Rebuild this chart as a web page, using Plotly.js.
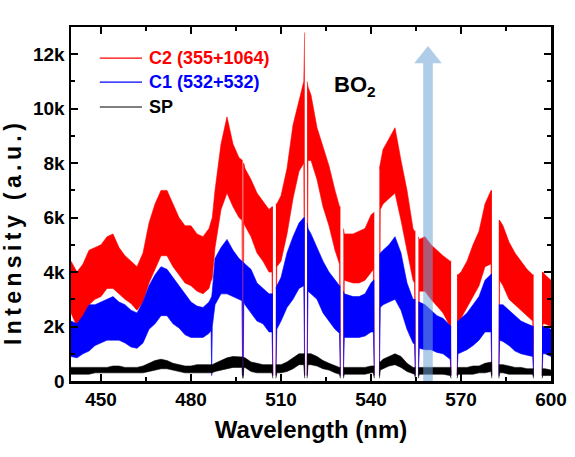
<!DOCTYPE html>
<html>
<head>
<meta charset="utf-8">
<script src="https://cdn.plot.ly/plotly-3.0.1.min.js"></script>
<style>
  html, body { margin: 0; padding: 0; background: #fff; }
  #chart { width: 575px; height: 457px; }
  .annotation[data-index="1"] text { letter-spacing: 4.4px; }
</style>
</head>
<body>
<div id="chart"></div>
<script>
// ---- data (null = no data between stitched spectral windows) ----
const wavelength = [
  440, 442, 444, 446, 448, 450, 452, 454, 456, 458, 460, 462, 464, 466, 468, 470, 472, 474, 476, 478,
  480, 482, 484, 486, 486.7, 486.9, 487.1, 488, 490, 492, 494, 496, 497.0, 497.2, 497.3, 497.4, 497.6, 498,
  500, 502, 504, 506, 507.0, 507.3, 507.8, 508.3, 508.6, 510, 512, 514, 516, 517.6, 517.9, 518.3, 518.7, 519.0,
  520, 522, 524, 526, 528, 529.5, 529.8, 530.3, 530.8, 531.1, 534, 536, 538, 540, 540.8, 541.1, 542.0, 542.8, 543.1,
  544, 546, 548, 550, 552, 554, 554.5, 554.8, 555.3, 555.8, 556.1, 558, 560, 562, 564, 566.4, 566.7, 567.7, 568.7, 569.0,
  570, 572, 574, 576, 578, 580.0, 580.3, 581.5, 582.6, 582.9, 584, 586, 588, 590, 592, 593.9, 594.2, 595.6, 597.0, 597.3,
  598, 600
];
// C2 (355+1064)
const c2Upper = [
  4400, 4000, 4300, 4800, 4900, 5000, 5300, 5400, 4900, 4600, 4400, 4200, 4700, 5800, 6500, 7000, 7000, 6500, 6000, 5700,
  5700, 5400, 5300, 5600, 5900, 5900, 6000, 7000, 8700, 9700, 8700, 8200, 8100, 8100, null, 8000, 8000, 7800,
  7400, 6900, 6600, 6300, 6400, 6400, null, 6500, 6500, 6800, 7800, 9400, 10300, 11000, 12800, null, 11000, 10800,
  10500, 9300, 8600, 7900, 7000, 6400, 6400, null, 5600, 5400, 5400, 5500, 5600, 6100, 6200, 6200, null, 7800, 8000,
  8500, 8900, 9300, 8100, 7000, 5600, 5500, 5500, null, 5300, 5200, 5300, 5000, 4800, 4600, 4400, 4400, null, 3900, 3900,
  4000, 4400, 5000, 5500, 6500, 7000, 7000, null, 5900, 5900, 5700, 5100, 4700, 4400, 4100, 3900, 3900, null, 4000, 4000,
  3900, 3700
];
const c2Lower = [
  2500, 2000, 2300, 2800, 3000, 3100, 3400, 3400, 3200, 3000, 2850, 2600, 2900, 3600, 4100, 4600, 4600, 4200, 3900, 3600,
  3500, 3300, 3200, 3400, 3700, 3700, 3800, 4900, 6300, 6900, 6400, 6000, 5900, 200, null, 200, 5800, 5700,
  5300, 4700, 4400, 4000, 4000, 200, null, 200, 4200, 4400, 5400, 6700, 7700, 8000, 200, null, 200, 8100,
  8100, 7400, 6400, 5700, 4800, 4300, 200, null, 200, 3700, 3600, 3600, 3700, 4000, 4100, 200, null, 200, 6300,
  6500, 6700, 6900, 5900, 4800, 3700, 3600, 200, null, 200, 3300, 3300, 3000, 2750, 2500, 2000, 200, null, 200, 2200,
  2300, 2700, 3100, 3500, 4200, 4300, 200, null, 200, 3700, 3500, 3000, 2800, 2600, 2400, 2200, 200, null, 200, 2100,
  2100, 2000
];
// C1 (532+532)
const c1Upper = [
  2200, 2100, 2400, 2800, 2800, 2900, 3000, 3100, 2900, 2800, 2600, 2500, 2900, 3500, 3900, 4200, 4100, 3800, 3500, 3200,
  2900, 2750, 2700, 2900, 3100, 3100, 3300, 4500, 4900, 5200, 4800, 4500, 4400, 4400, null, 4350, 4350, 4300,
  4100, 3600, 3400, 3200, 3200, 3200, null, 3400, 3500, 3800, 4700, 5300, 5800, 6000, 6000, null, 5800, 5600,
  5400, 4900, 4400, 4000, 3700, 3500, 3500, null, 3300, 3200, 3100, 3100, 3200, 3600, 3700, 3700, null, 4600, 4700,
  4800, 5000, 5300, 4700, 3600, 3000, 3000, 3000, null, 2900, 2900, 2800, 2600, 2400, 2300, 2000, 2000, null, 2200, 2200,
  2300, 2500, 2800, 3100, 3700, 3950, 3950, null, 2800, 2800, 2800, 2600, 2400, 2200, 2100, 2000, 2000, null, 2000, 2000,
  2000, 1900
];
const c1Lower = [
  900, 850, 1000, 1100, 1300, 1400, 1500, 1500, 1500, 1400, 1250, 1200, 1400, 1900, 2100, 2400, 2400, 2100, 1950, 1700,
  1600, 1600, 1600, 1750, 1850, 200, 2000, 2800, 3200, 3200, 3100, 3000, 2950, 200, null, 200, 2900, 2800,
  2500, 2200, 2100, 1800, 1800, 200, null, 200, 1900, 2200, 2700, 3000, 3400, 3500, 200, null, 200, 3300,
  3200, 3000, 2500, 2200, 1900, 1750, 200, null, 200, 1600, 1600, 1600, 1650, 1800, 1800, 200, null, 200, 2700,
  2800, 2900, 3000, 2600, 1900, 1400, 1350, 200, null, 200, 1200, 1150, 1150, 1050, 1000, 800, 200, null, 200, 1000,
  1050, 1150, 1300, 1500, 1800, 1800, 200, null, 200, 1500, 1450, 1300, 1100, 1000, 950, 900, 200, null, 200, 1000,
  1000, 900
];
// SP
const spUpper = [
  500, 500, 500, 500, 500, 500, 500, 550, 550, 500, 500, 500, 550, 650, 750, 800, 750, 650, 600, 550,
  550, 600, 600, 600, 600, 600, 600, 650, 750, 850, 900, 900, 880, 880, null, 870, 870, 850,
  700, 650, 600, 600, 600, 600, null, 600, 600, 600, 700, 850, 1000, 1000, 1000, null, 1000, 1000,
  1000, 900, 750, 650, 550, 500, 500, null, 500, 500, 500, 500, 500, 550, 550, 550, null, 700, 700,
  800, 900, 1000, 900, 650, 500, 500, 500, null, 500, 500, 500, 500, 500, 500, 500, 500, null, 500, 500,
  500, 500, 550, 550, 650, 700, 700, null, 600, 600, 600, 550, 500, 500, 450, 450, 450, null, 450, 450,
  450, 400
];
const spLower = [
  250, 250, 250, 250, 300, 300, 300, 300, 300, 300, 300, 300, 300, 350, 400, 450, 450, 400, 350, 300,
  300, 300, 300, 300, 300, 300, 300, 350, 400, 450, 500, 500, 500, 100, null, 100, 500, 500,
  350, 300, 300, 300, 300, 100, null, 100, 300, 300, 350, 450, 600, 600, 100, null, 100, 600,
  600, 550, 450, 400, 300, 250, 100, null, 100, 250, 250, 250, 250, 300, 300, 100, null, 100, 400,
  450, 550, 600, 500, 350, 250, 250, 100, null, 100, 250, 250, 250, 250, 250, 200, 100, null, 100, 250,
  250, 250, 250, 300, 300, 350, 100, null, 100, 300, 300, 250, 250, 250, 250, 250, 100, null, 100, 200,
  200, 200
];

const seriesNames = ['C2 (355+1064)', 'C1 (532+532)', 'SP'];
const seriesColors = ['#ff0000', '#0000ff', '#000000'];
const seriesUpper = [c2Upper, c1Upper, spUpper];
const seriesLower = [c2Lower, c1Lower, spLower];

const xTickVals = [450, 480, 510, 540, 570, 600];
const xTickText = ['450', '480', '510', '540', '570', '600'];
const yTickVals = [0, 2000, 4000, 6000, 8000, 10000, 12000];
const yTickText = ['0', '2k', '4k', '6k', '8k', '10k', '12k'];

// ---- build traces: each spectral window = lower-envelope line + upper-envelope line filled down to it ----
function segments(upper) {
  const segs = [];
  let cur = [];
  for (let i = 0; i < wavelength.length; i++) {
    if (upper[i] === null) { if (cur.length) segs.push(cur); cur = []; }
    else cur.push(i);
  }
  if (cur.length) segs.push(cur);
  return segs;
}

const traces = [];
for (let s = 0; s < seriesNames.length; s++) {
  const up = seriesUpper[s], lo = seriesLower[s];
  segments(up).forEach(idx => {
    const xs = idx.map(i => wavelength[i]);
    traces.push({
      type: 'scatter', mode: 'lines', x: xs, y: idx.map(i => lo[i]),
      line: { color: seriesColors[s], width: 0.6 },
      showlegend: false, hoverinfo: 'skip'
    });
    traces.push({
      type: 'scatter', mode: 'lines', x: xs, y: idx.map(i => up[i]),
      fill: 'tonexty', fillcolor: seriesColors[s],
      line: { color: seriesColors[s], width: 0.6 },
      showlegend: false, hoverinfo: 'skip'
    });
  });
}

const FONT = 'Liberation Sans, Arial, sans-serif';

// legend drawn as line shapes + coloured labels (paper coordinates)
const legendRowY = [0.912, 0.844, 0.774];
const legendShapes = seriesNames.map((n, s) => ({
  type: 'line', xref: 'paper', yref: 'paper', x0: 0.06, x1: 0.148,
  y0: legendRowY[s], y1: legendRowY[s], line: { color: seriesColors[s], width: 1.2 }
}));
const legendLabels = seriesNames.map((n, s) => ({
  text: n, xref: 'paper', yref: 'paper', x: 0.158, y: legendRowY[s],
  xanchor: 'left', yanchor: 'middle', showarrow: false,
  font: { family: FONT, size: 18, weight: 700, color: seriesColors[s] }
}));

const layout = {
  width: 575, height: 457,
  margin: { l: 71, r: 24, t: 27, b: 76, pad: 0 },
  paper_bgcolor: '#ffffff', plot_bgcolor: '#ffffff',
  font: { family: FONT, color: '#000000' },
  showlegend: false,
  xaxis: {
    range: [440, 600], tickmode: 'array', tickvals: xTickVals, ticktext: xTickText,
    ticks: 'inside', ticklen: 7, tickwidth: 2, tickcolor: '#000',
    minor: { dtick: 15, tick0: 450, ticks: 'inside', ticklen: 4, tickwidth: 2, tickcolor: '#000', showgrid: false },
    showline: true, linewidth: 2.5, linecolor: '#000', mirror: 'allticks',
    showgrid: false, zeroline: false,
    tickfont: { family: FONT, size: 19, weight: 700, color: '#000' },
    title: { text: 'Wavelength (nm)', font: { family: FONT, size: 24, weight: 700, color: '#000' }, standoff: 12 }
  },
  yaxis: {
    range: [0, 13000], tickmode: 'array', tickvals: yTickVals, ticktext: yTickText,
    ticks: 'inside', ticklen: 7, tickwidth: 2, tickcolor: '#000',
    minor: { dtick: 1000, tick0: 0, ticks: 'inside', ticklen: 4, tickwidth: 2, tickcolor: '#000', showgrid: false },
    showline: true, linewidth: 2.5, linecolor: '#000', mirror: 'allticks',
    showgrid: false, zeroline: false,
    tickfont: { family: FONT, size: 19, weight: 700, color: '#000' }
  },
  annotations: [{
    text: 'BO<sub>2</sub>', x: 527, y: 10850, xref: 'x', yref: 'y',
    xanchor: 'left', yanchor: 'middle', showarrow: false,
    font: { family: FONT, size: 22, weight: 700, color: '#000' }
  }, {
    text: 'Intensity (a.u.)', x: -0.121, y: 0.421, xref: 'paper', yref: 'paper',
    xanchor: 'center', yanchor: 'middle', textangle: -90, showarrow: false,
    font: { family: FONT, size: 23, weight: 700, color: '#000' }
  }].concat(legendLabels),
  shapes: [{
    type: 'path', xref: 'x', yref: 'y', layer: 'above',
    path: 'M 557.4 0 L 557.4 11670 L 554.4 11670 L 559 12300 L 563.6 11670 L 560.6 11670 L 560.6 0 Z',
    fillcolor: 'rgb(110,162,214)', opacity: 0.55, line: { width: 0 }
  }].concat(legendShapes)
};

Plotly.newPlot('chart', traces, layout, { displayModeBar: false, staticPlot: true });
</script>
</body>
</html>
